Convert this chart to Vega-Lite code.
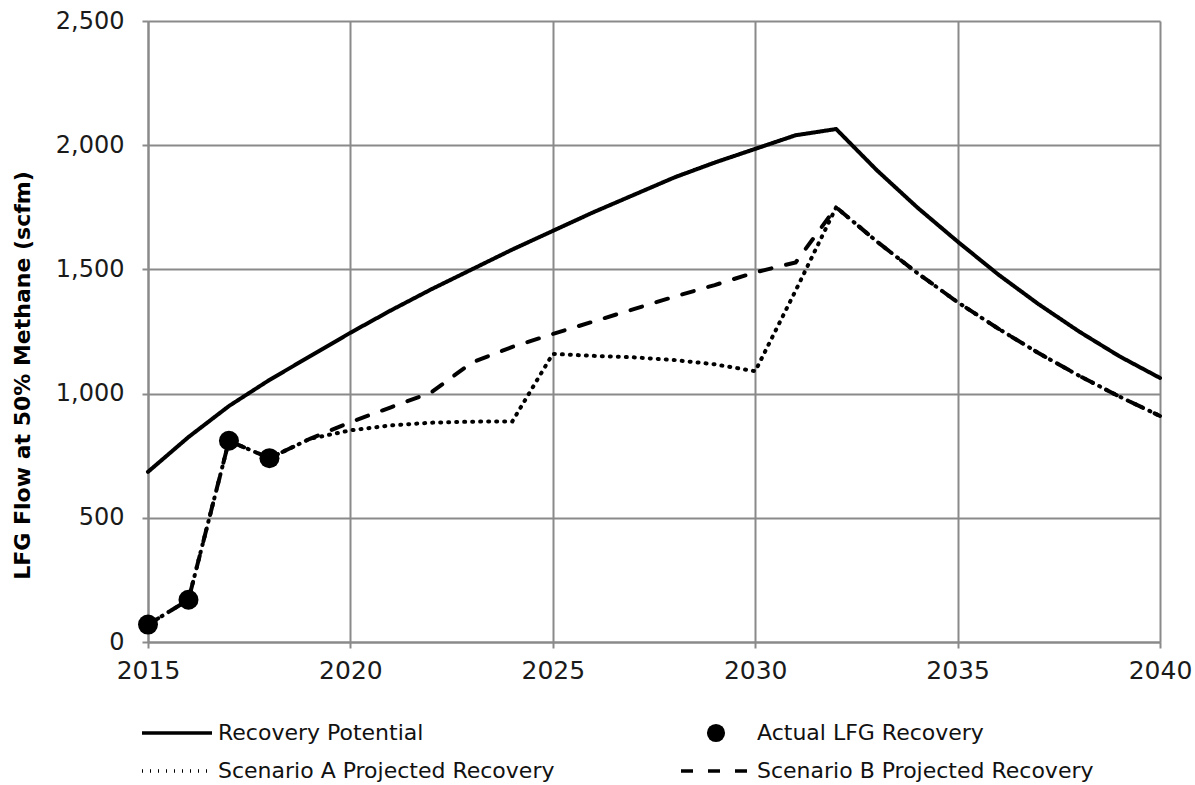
{
  "$schema": "https://vega.github.io/schema/vega-lite/v6.json",
  "width": 1012,
  "height": 621,
  "autosize": {"type": "none"},
  "padding": {"left": 148, "top": 21, "right": 35, "bottom": 143},
  "config": {"view": {"stroke": null}, "font": "DejaVu Sans"},
  "data": {"values": [
    {"year": 2015, "series": "Recovery Potential", "value": 685},
    {"year": 2016, "series": "Recovery Potential", "value": 825},
    {"year": 2017, "series": "Recovery Potential", "value": 950},
    {"year": 2018, "series": "Recovery Potential", "value": 1055},
    {"year": 2019, "series": "Recovery Potential", "value": 1150},
    {"year": 2020, "series": "Recovery Potential", "value": 1245},
    {"year": 2021, "series": "Recovery Potential", "value": 1335},
    {"year": 2022, "series": "Recovery Potential", "value": 1420},
    {"year": 2023, "series": "Recovery Potential", "value": 1500},
    {"year": 2024, "series": "Recovery Potential", "value": 1580},
    {"year": 2025, "series": "Recovery Potential", "value": 1655},
    {"year": 2026, "series": "Recovery Potential", "value": 1730},
    {"year": 2027, "series": "Recovery Potential", "value": 1800},
    {"year": 2028, "series": "Recovery Potential", "value": 1870},
    {"year": 2029, "series": "Recovery Potential", "value": 1930},
    {"year": 2030, "series": "Recovery Potential", "value": 1985},
    {"year": 2031, "series": "Recovery Potential", "value": 2040},
    {"year": 2032, "series": "Recovery Potential", "value": 2065},
    {"year": 2033, "series": "Recovery Potential", "value": 1900},
    {"year": 2034, "series": "Recovery Potential", "value": 1750},
    {"year": 2035, "series": "Recovery Potential", "value": 1612},
    {"year": 2036, "series": "Recovery Potential", "value": 1480},
    {"year": 2037, "series": "Recovery Potential", "value": 1360},
    {"year": 2038, "series": "Recovery Potential", "value": 1250},
    {"year": 2039, "series": "Recovery Potential", "value": 1150},
    {"year": 2040, "series": "Recovery Potential", "value": 1063},
    {"year": 2015, "series": "Scenario A Projected Recovery", "value": 70},
    {"year": 2016, "series": "Scenario A Projected Recovery", "value": 170},
    {"year": 2017, "series": "Scenario A Projected Recovery", "value": 810},
    {"year": 2018, "series": "Scenario A Projected Recovery", "value": 740},
    {"year": 2019, "series": "Scenario A Projected Recovery", "value": 818},
    {"year": 2020, "series": "Scenario A Projected Recovery", "value": 852},
    {"year": 2021, "series": "Scenario A Projected Recovery", "value": 872},
    {"year": 2022, "series": "Scenario A Projected Recovery", "value": 883},
    {"year": 2023, "series": "Scenario A Projected Recovery", "value": 887},
    {"year": 2024, "series": "Scenario A Projected Recovery", "value": 888},
    {"year": 2025, "series": "Scenario A Projected Recovery", "value": 1160},
    {"year": 2026, "series": "Scenario A Projected Recovery", "value": 1152},
    {"year": 2027, "series": "Scenario A Projected Recovery", "value": 1146},
    {"year": 2028, "series": "Scenario A Projected Recovery", "value": 1135},
    {"year": 2029, "series": "Scenario A Projected Recovery", "value": 1118},
    {"year": 2030, "series": "Scenario A Projected Recovery", "value": 1090},
    {"year": 2031, "series": "Scenario A Projected Recovery", "value": 1415},
    {"year": 2032, "series": "Scenario A Projected Recovery", "value": 1750},
    {"year": 2033, "series": "Scenario A Projected Recovery", "value": 1613},
    {"year": 2034, "series": "Scenario A Projected Recovery", "value": 1486},
    {"year": 2035, "series": "Scenario A Projected Recovery", "value": 1368},
    {"year": 2036, "series": "Scenario A Projected Recovery", "value": 1262},
    {"year": 2037, "series": "Scenario A Projected Recovery", "value": 1163},
    {"year": 2038, "series": "Scenario A Projected Recovery", "value": 1072},
    {"year": 2039, "series": "Scenario A Projected Recovery", "value": 988},
    {"year": 2040, "series": "Scenario A Projected Recovery", "value": 910},
    {"year": 2015, "series": "Scenario B Projected Recovery", "value": 70},
    {"year": 2016, "series": "Scenario B Projected Recovery", "value": 170},
    {"year": 2017, "series": "Scenario B Projected Recovery", "value": 810},
    {"year": 2018, "series": "Scenario B Projected Recovery", "value": 740},
    {"year": 2019, "series": "Scenario B Projected Recovery", "value": 818},
    {"year": 2020, "series": "Scenario B Projected Recovery", "value": 885},
    {"year": 2021, "series": "Scenario B Projected Recovery", "value": 945},
    {"year": 2022, "series": "Scenario B Projected Recovery", "value": 1005},
    {"year": 2023, "series": "Scenario B Projected Recovery", "value": 1125},
    {"year": 2024, "series": "Scenario B Projected Recovery", "value": 1188},
    {"year": 2025, "series": "Scenario B Projected Recovery", "value": 1240},
    {"year": 2026, "series": "Scenario B Projected Recovery", "value": 1290},
    {"year": 2027, "series": "Scenario B Projected Recovery", "value": 1340},
    {"year": 2028, "series": "Scenario B Projected Recovery", "value": 1390},
    {"year": 2029, "series": "Scenario B Projected Recovery", "value": 1437},
    {"year": 2030, "series": "Scenario B Projected Recovery", "value": 1488},
    {"year": 2031, "series": "Scenario B Projected Recovery", "value": 1528},
    {"year": 2032, "series": "Scenario B Projected Recovery", "value": 1750},
    {"year": 2033, "series": "Scenario B Projected Recovery", "value": 1613},
    {"year": 2034, "series": "Scenario B Projected Recovery", "value": 1486},
    {"year": 2035, "series": "Scenario B Projected Recovery", "value": 1368},
    {"year": 2036, "series": "Scenario B Projected Recovery", "value": 1262},
    {"year": 2037, "series": "Scenario B Projected Recovery", "value": 1163},
    {"year": 2038, "series": "Scenario B Projected Recovery", "value": 1072},
    {"year": 2039, "series": "Scenario B Projected Recovery", "value": 988},
    {"year": 2040, "series": "Scenario B Projected Recovery", "value": 910},
    {"year": 2015, "series": "Actual LFG Recovery", "value": 70},
    {"year": 2016, "series": "Actual LFG Recovery", "value": 170},
    {"year": 2017, "series": "Actual LFG Recovery", "value": 810},
    {"year": 2018, "series": "Actual LFG Recovery", "value": 740}
  ]},
  "encoding": {
    "x": {
      "field": "year", "type": "quantitative",
      "scale": {"domain": [2015, 2040], "nice": false, "zero": false},
      "axis": {
        "values": [2015, 2020, 2025, 2030, 2035, 2040], "format": "d", "title": null,
        "labelFontSize": 25, "labelColor": "#1a1a1a", "labelFlush": false, "labelOverlap": false,
        "labelPadding": 10,
        "grid": true, "gridColor": "#8a8a8a", "gridWidth": 2,
        "domainColor": "#8a8a8a", "domainWidth": 2,
        "tickColor": "#8a8a8a", "tickWidth": 2, "tickSize": 6
      }
    },
    "y": {
      "field": "value", "type": "quantitative",
      "scale": {"domain": [0, 2500], "nice": false},
      "axis": {
        "values": [0, 500, 1000, 1500, 2000, 2500], "format": ",d",
        "title": "LFG Flow at 50% Methane (scfm)", "titleFontSize": 22, "titleFontWeight": "bold",
        "titleColor": "#000", "titleX": -126, "titleY": 354, "titleAngle": -90,
        "titleBaseline": "middle", "titleAlign": "center",
        "labelFontSize": 24, "labelColor": "#1a1a1a", "labelPadding": 18,
        "grid": true, "gridColor": "#8a8a8a", "gridWidth": 2,
        "domainColor": "#8a8a8a", "domainWidth": 2,
        "tickColor": "#8a8a8a", "tickWidth": 2, "tickSize": 6
      }
    }
  },
  "layer": [
    {
      "transform": [{"filter": "datum.series !== 'Actual LFG Recovery'"}],
      "mark": {"type": "line", "strokeWidth": 4, "strokeCap": "round", "color": "black"},
      "encoding": {
        "strokeDash": {
          "field": "series", "type": "nominal",
          "scale": {
            "domain": ["Recovery Potential", "Actual LFG Recovery", "Scenario A Projected Recovery", "Scenario B Projected Recovery"],
            "range": [[1, 0], [1, 0], [1, 7], [12, 15]]
          },
          "legend": {
            "orient": "none", "legendX": -8, "legendY": 697,
            "columns": 2, "direction": "horizontal", "title": null,
            "labelFontSize": 22, "labelColor": "#111", "labelOffset": 4, "labelLimit": 500,
            "symbolType": "stroke", "symbolSize": 4900, "symbolStrokeWidth": 3.5,
            "symbolStrokeColor": "black", "clipHeight": 30,
            "columnPadding": 124, "rowPadding": 8,
            "encode": {
              "symbols": {
                "update": {
                  "shape": {"signal": "datum.value === 'Actual LFG Recovery' ? 'circle' : 'stroke'"},
                  "size": {"signal": "datum.value === 'Actual LFG Recovery' ? 330 : 4900"},
                  "fill": {"signal": "datum.value === 'Actual LFG Recovery' ? 'black' : 'transparent'"},
                  "stroke": {"signal": "datum.value === 'Actual LFG Recovery' ? 'transparent' : 'black'"},
                  "strokeDash": {"signal": "datum.value === 'Scenario A Projected Recovery' ? [2, 3] : datum.value === 'Scenario B Projected Recovery' ? [16, 7] : [1, 0]"}
                }
              }
            }
          }
        }
      }
    },
    {
      "transform": [{"filter": "datum.series === 'Actual LFG Recovery'"}],
      "mark": {"type": "point", "filled": true, "size": 400, "color": "black", "opacity": 1},
      "encoding": {}
    }
  ]
}
